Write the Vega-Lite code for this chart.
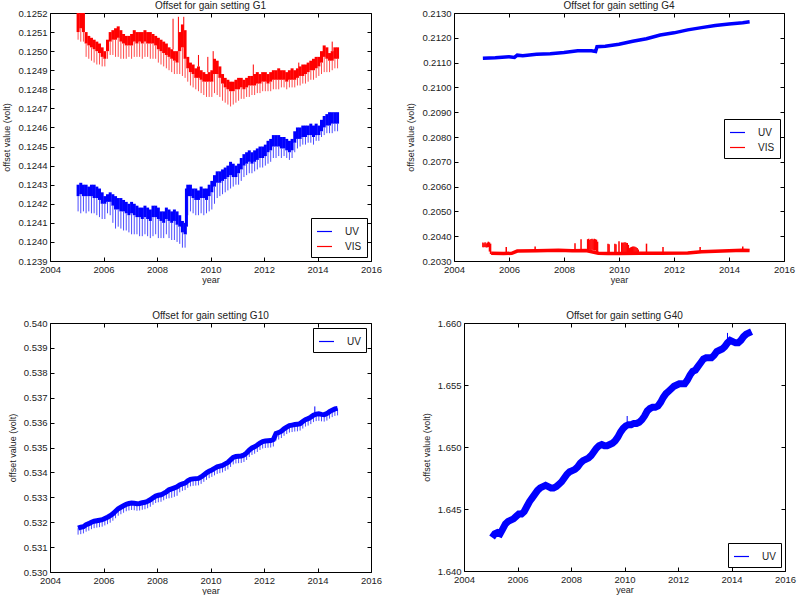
{
"$schema": "https://vega.github.io/schema/vega-lite/v6.json",
"background": "white",
"padding": {"left": 2, "top": 0, "right": 0, "bottom": 0},
"resolve": {"scale": {"color": "independent"}, "legend": {"color": "independent"}},
"config": {
 "font": "Liberation Sans",
 "view": {"stroke": "#000", "strokeWidth": 1},
 "axis": {"grid": false, "domain": false, "tickSize": -4, "tickColor": "#000", "labelFontSize": 9.5, "labelColor": "#222", "labelPadding": 7, "titleFontSize": 9, "titleFontWeight": "normal", "titleColor": "#222", "labelFlush": false, "labelOverlap": false, "tickCount": 30},
 "axisX": {"titlePadding": 2},
 "axisY": {"titlePadding": 6},
 "title": {"fontSize": 10, "fontWeight": "normal", "color": "#222", "offset": -3},
 "legend": {"symbolType": "stroke", "strokeColor": "#000", "fillColor": "#fff", "padding": 5, "labelFontSize": 10, "symbolStrokeWidth": 1.2, "symbolSize": 225, "rowPadding": 1, "labelOffset": 12, "labelColor": "#222", "cornerRadius": 0}
},
"datasets": {
 "g1": [
  {"s":"UV","t":2005.05,"hi":0.1243,"lo":0.12424,"sp":0.12416},
  {"s":"UV","t":2005.15,"hi":0.12431,"lo":0.12425,"sp":0.12415},
  {"s":"UV","t":2005.25,"hi":0.1243,"lo":0.12424,"sp":0.12416},
  {"s":"UV","t":2005.35,"hi":0.1243,"lo":0.12424,"sp":0.12415},
  {"s":"UV","t":2005.45,"hi":0.12429,"lo":0.12424,"sp":0.12416},
  {"s":"UV","t":2005.55,"hi":0.1243,"lo":0.12424,"sp":0.12415},
  {"s":"UV","t":2005.65,"hi":0.1243,"lo":0.12423,"sp":0.12415},
  {"s":"UV","t":2005.75,"hi":0.12429,"lo":0.12423,"sp":0.12414},
  {"s":"UV","t":2005.85,"hi":0.12428,"lo":0.12422,"sp":0.12413},
  {"s":"UV","t":2005.95,"hi":0.12426,"lo":0.1242,"sp":0.12412},
  {"s":"UV","t":2006.05,"hi":0.12424,"lo":0.1242,"sp":0.12412},
  {"s":"UV","t":2006.15,"hi":0.12425,"lo":0.12421,"sp":0.12415},
  {"s":"UV","t":2006.25,"hi":0.12426,"lo":0.12421,"sp":0.12414},
  {"s":"UV","t":2006.35,"hi":0.12425,"lo":0.12419,"sp":0.1241},
  {"s":"UV","t":2006.45,"hi":0.12424,"lo":0.12417,"sp":0.12407},
  {"s":"UV","t":2006.55,"hi":0.12423,"lo":0.12417,"sp":0.12408},
  {"s":"UV","t":2006.65,"hi":0.12423,"lo":0.12416,"sp":0.12407},
  {"s":"UV","t":2006.75,"hi":0.12422,"lo":0.12416,"sp":0.12406},
  {"s":"UV","t":2006.85,"hi":0.12421,"lo":0.12415,"sp":0.12406},
  {"s":"UV","t":2006.95,"hi":0.1242,"lo":0.12414,"sp":0.12405},
  {"s":"UV","t":2007.05,"hi":0.12421,"lo":0.12415,"sp":0.12404},
  {"s":"UV","t":2007.15,"hi":0.1242,"lo":0.12414,"sp":0.12404},
  {"s":"UV","t":2007.25,"hi":0.12419,"lo":0.12413,"sp":0.12404},
  {"s":"UV","t":2007.35,"hi":0.12418,"lo":0.12413,"sp":0.12403},
  {"s":"UV","t":2007.45,"hi":0.12418,"lo":0.12412,"sp":0.12403},
  {"s":"UV","t":2007.55,"hi":0.12419,"lo":0.12413,"sp":0.12404},
  {"s":"UV","t":2007.65,"hi":0.12418,"lo":0.12412,"sp":0.12403},
  {"s":"UV","t":2007.75,"hi":0.12417,"lo":0.12411,"sp":0.12402},
  {"s":"UV","t":2007.85,"hi":0.12419,"lo":0.12413,"sp":0.12403},
  {"s":"UV","t":2007.95,"hi":0.12419,"lo":0.12413,"sp":0.12404},
  {"s":"UV","t":2008.05,"hi":0.12418,"lo":0.12412,"sp":0.12402},
  {"s":"UV","t":2008.15,"hi":0.12416,"lo":0.12411,"sp":0.12402},
  {"s":"UV","t":2008.25,"hi":0.12416,"lo":0.1241,"sp":0.12402},
  {"s":"UV","t":2008.35,"hi":0.12418,"lo":0.12412,"sp":0.12404},
  {"s":"UV","t":2008.45,"hi":0.12417,"lo":0.12411,"sp":0.12402},
  {"s":"UV","t":2008.55,"hi":0.12416,"lo":0.1241,"sp":0.12401},
  {"s":"UV","t":2008.65,"hi":0.12417,"lo":0.12411,"sp":0.12401},
  {"s":"UV","t":2008.75,"hi":0.12416,"lo":0.12409,"sp":0.124},
  {"s":"UV","t":2008.85,"hi":0.12414,"lo":0.12408,"sp":0.12399},
  {"s":"UV","t":2008.95,"hi":0.12411,"lo":0.12405,"sp":0.12397},
  {"s":"UV","t":2009.05,"hi":0.1241,"lo":0.12404,"sp":0.12397},
  {"s":"UV","t":2009.1,"hi":0.12428,"lo":0.12408,"sp":0.12404},
  {"s":"UV","t":2009.15,"hi":0.1243,"lo":0.12424,"sp":0.12414},
  {"s":"UV","t":2009.25,"hi":0.1243,"lo":0.12424,"sp":0.12416},
  {"s":"UV","t":2009.35,"hi":0.12428,"lo":0.12423,"sp":0.12415},
  {"s":"UV","t":2009.45,"hi":0.12428,"lo":0.12422,"sp":0.12414},
  {"s":"UV","t":2009.55,"hi":0.12427,"lo":0.12422,"sp":0.12414},
  {"s":"UV","t":2009.65,"hi":0.12429,"lo":0.12423,"sp":0.12415},
  {"s":"UV","t":2009.75,"hi":0.12428,"lo":0.12423,"sp":0.12414},
  {"s":"UV","t":2009.85,"hi":0.12428,"lo":0.12422,"sp":0.12415},
  {"s":"UV","t":2009.95,"hi":0.1243,"lo":0.12424,"sp":0.12416},
  {"s":"UV","t":2010.05,"hi":0.12432,"lo":0.12426,"sp":0.12417},
  {"s":"UV","t":2010.15,"hi":0.12435,"lo":0.12429,"sp":0.1242},
  {"s":"UV","t":2010.25,"hi":0.12437,"lo":0.12431,"sp":0.12423},
  {"s":"UV","t":2010.35,"hi":0.12437,"lo":0.12431,"sp":0.12424},
  {"s":"UV","t":2010.45,"hi":0.12438,"lo":0.12432,"sp":0.12425},
  {"s":"UV","t":2010.55,"hi":0.12439,"lo":0.12433,"sp":0.12426},
  {"s":"UV","t":2010.65,"hi":0.1244,"lo":0.12434,"sp":0.12427},
  {"s":"UV","t":2010.75,"hi":0.12442,"lo":0.12435,"sp":0.12428},
  {"s":"UV","t":2010.85,"hi":0.12441,"lo":0.12434,"sp":0.12429},
  {"s":"UV","t":2010.95,"hi":0.1244,"lo":0.12434,"sp":0.1243},
  {"s":"UV","t":2011.05,"hi":0.12441,"lo":0.12436,"sp":0.1243},
  {"s":"UV","t":2011.15,"hi":0.12444,"lo":0.12438,"sp":0.12432},
  {"s":"UV","t":2011.25,"hi":0.12446,"lo":0.1244,"sp":0.12434},
  {"s":"UV","t":2011.35,"hi":0.12447,"lo":0.12441,"sp":0.12435},
  {"s":"UV","t":2011.45,"hi":0.12448,"lo":0.12442,"sp":0.12436},
  {"s":"UV","t":2011.55,"hi":0.12447,"lo":0.12441,"sp":0.12436},
  {"s":"UV","t":2011.65,"hi":0.12448,"lo":0.12442,"sp":0.12437},
  {"s":"UV","t":2011.75,"hi":0.12449,"lo":0.12443,"sp":0.12438},
  {"s":"UV","t":2011.85,"hi":0.1245,"lo":0.12444,"sp":0.12439},
  {"s":"UV","t":2011.95,"hi":0.1245,"lo":0.12444,"sp":0.12439},
  {"s":"UV","t":2012.05,"hi":0.12451,"lo":0.12445,"sp":0.1244},
  {"s":"UV","t":2012.15,"hi":0.12453,"lo":0.12447,"sp":0.12441},
  {"s":"UV","t":2012.25,"hi":0.12454,"lo":0.12448,"sp":0.12442},
  {"s":"UV","t":2012.35,"hi":0.12456,"lo":0.1245,"sp":0.12444},
  {"s":"UV","t":2012.45,"hi":0.12456,"lo":0.1245,"sp":0.12444},
  {"s":"UV","t":2012.55,"hi":0.12456,"lo":0.1245,"sp":0.12445},
  {"s":"UV","t":2012.65,"hi":0.12455,"lo":0.12449,"sp":0.12444},
  {"s":"UV","t":2012.75,"hi":0.12455,"lo":0.12449,"sp":0.12445},
  {"s":"UV","t":2012.85,"hi":0.12454,"lo":0.12448,"sp":0.12444},
  {"s":"UV","t":2012.95,"hi":0.12453,"lo":0.12447,"sp":0.12443},
  {"s":"UV","t":2013.05,"hi":0.12454,"lo":0.12448,"sp":0.12444},
  {"s":"UV","t":2013.15,"hi":0.12458,"lo":0.12452,"sp":0.12447},
  {"s":"UV","t":2013.25,"hi":0.1246,"lo":0.12454,"sp":0.12449},
  {"s":"UV","t":2013.35,"hi":0.1246,"lo":0.12454,"sp":0.1245},
  {"s":"UV","t":2013.45,"hi":0.12461,"lo":0.12455,"sp":0.12451},
  {"s":"UV","t":2013.55,"hi":0.12461,"lo":0.12455,"sp":0.12451},
  {"s":"UV","t":2013.65,"hi":0.12461,"lo":0.12456,"sp":0.12452},
  {"s":"UV","t":2013.75,"hi":0.12462,"lo":0.12456,"sp":0.12452},
  {"s":"UV","t":2013.85,"hi":0.12461,"lo":0.12455,"sp":0.12451},
  {"s":"UV","t":2013.95,"hi":0.12462,"lo":0.12456,"sp":0.12453},
  {"s":"UV","t":2014.05,"hi":0.12461,"lo":0.12456,"sp":0.12453},
  {"s":"UV","t":2014.15,"hi":0.12464,"lo":0.12458,"sp":0.12455},
  {"s":"UV","t":2014.25,"hi":0.12466,"lo":0.1246,"sp":0.12456},
  {"s":"UV","t":2014.35,"hi":0.12467,"lo":0.12461,"sp":0.12457},
  {"s":"UV","t":2014.45,"hi":0.12468,"lo":0.12461,"sp":0.12457},
  {"s":"UV","t":2014.55,"hi":0.12468,"lo":0.12462,"sp":0.12457},
  {"s":"UV","t":2014.65,"hi":0.12468,"lo":0.12462,"sp":0.12458},
  {"s":"UV","t":2014.75,"hi":0.12468,"lo":0.12462,"sp":0.12458},
  {"s":"VIS","t":2005.05,"hi":0.1252,"lo":0.1251,"sp":0.12506},
  {"s":"VIS","t":2005.15,"hi":0.12521,"lo":0.12512,"sp":0.12505},
  {"s":"VIS","t":2005.25,"hi":0.1252,"lo":0.1251,"sp":0.12505},
  {"s":"VIS","t":2005.35,"hi":0.1251,"lo":0.12504,"sp":0.12497},
  {"s":"VIS","t":2005.45,"hi":0.12508,"lo":0.12503,"sp":0.12496},
  {"s":"VIS","t":2005.55,"hi":0.12507,"lo":0.12502,"sp":0.12495},
  {"s":"VIS","t":2005.65,"hi":0.12506,"lo":0.12501,"sp":0.12494},
  {"s":"VIS","t":2005.75,"hi":0.12505,"lo":0.125,"sp":0.12493},
  {"s":"VIS","t":2005.85,"hi":0.12504,"lo":0.12499,"sp":0.12493},
  {"s":"VIS","t":2005.95,"hi":0.12502,"lo":0.12497,"sp":0.12492},
  {"s":"VIS","t":2006.05,"hi":0.125,"lo":0.12496,"sp":0.12492},
  {"s":"VIS","t":2006.15,"hi":0.12506,"lo":0.125,"sp":0.12496},
  {"s":"VIS","t":2006.25,"hi":0.1251,"lo":0.12505,"sp":0.12498},
  {"s":"VIS","t":2006.35,"hi":0.12511,"lo":0.12506,"sp":0.12498},
  {"s":"VIS","t":2006.45,"hi":0.12512,"lo":0.12506,"sp":0.12497},
  {"s":"VIS","t":2006.55,"hi":0.12513,"lo":0.12507,"sp":0.12497},
  {"s":"VIS","t":2006.65,"hi":0.12511,"lo":0.12505,"sp":0.12496},
  {"s":"VIS","t":2006.75,"hi":0.12509,"lo":0.12504,"sp":0.12496},
  {"s":"VIS","t":2006.85,"hi":0.12508,"lo":0.12503,"sp":0.12496},
  {"s":"VIS","t":2006.95,"hi":0.12508,"lo":0.12503,"sp":0.12497},
  {"s":"VIS","t":2007.05,"hi":0.12509,"lo":0.12503,"sp":0.12496},
  {"s":"VIS","t":2007.15,"hi":0.12511,"lo":0.12505,"sp":0.12497},
  {"s":"VIS","t":2007.25,"hi":0.1251,"lo":0.12504,"sp":0.12497},
  {"s":"VIS","t":2007.35,"hi":0.1251,"lo":0.12505,"sp":0.12497},
  {"s":"VIS","t":2007.45,"hi":0.1251,"lo":0.12504,"sp":0.12496},
  {"s":"VIS","t":2007.55,"hi":0.12511,"lo":0.12505,"sp":0.12497},
  {"s":"VIS","t":2007.65,"hi":0.1251,"lo":0.12504,"sp":0.12497},
  {"s":"VIS","t":2007.75,"hi":0.1251,"lo":0.12504,"sp":0.12496},
  {"s":"VIS","t":2007.85,"hi":0.12509,"lo":0.12504,"sp":0.12496},
  {"s":"VIS","t":2007.95,"hi":0.12508,"lo":0.12503,"sp":0.12496},
  {"s":"VIS","t":2008.05,"hi":0.12507,"lo":0.12501,"sp":0.12494},
  {"s":"VIS","t":2008.15,"hi":0.12506,"lo":0.125,"sp":0.12493},
  {"s":"VIS","t":2008.25,"hi":0.12505,"lo":0.12499,"sp":0.12492},
  {"s":"VIS","t":2008.35,"hi":0.12504,"lo":0.12498,"sp":0.12491},
  {"s":"VIS","t":2008.45,"hi":0.12502,"lo":0.12497,"sp":0.1249},
  {"s":"VIS","t":2008.55,"hi":0.12501,"lo":0.12496,"sp":0.12489},
  {"s":"VIS","t":2008.65,"hi":0.125,"lo":0.12495,"sp":0.12488},
  {"s":"VIS","t":2008.75,"hi":0.125,"lo":0.12494,"sp":0.12488},
  {"s":"VIS","t":2008.85,"hi":0.1251,"lo":0.125,"sp":0.12488},
  {"s":"VIS","t":2008.95,"hi":0.12514,"lo":0.12502,"sp":0.12487},
  {"s":"VIS","t":2009.05,"hi":0.12511,"lo":0.12496,"sp":0.12486},
  {"s":"VIS","t":2009.15,"hi":0.12497,"lo":0.12491,"sp":0.12484},
  {"s":"VIS","t":2009.25,"hi":0.12494,"lo":0.12489,"sp":0.12482},
  {"s":"VIS","t":2009.35,"hi":0.12493,"lo":0.12488,"sp":0.12481},
  {"s":"VIS","t":2009.45,"hi":0.12491,"lo":0.12486,"sp":0.1248},
  {"s":"VIS","t":2009.55,"hi":0.12492,"lo":0.12486,"sp":0.12479},
  {"s":"VIS","t":2009.65,"hi":0.1249,"lo":0.12485,"sp":0.12478},
  {"s":"VIS","t":2009.75,"hi":0.12489,"lo":0.12484,"sp":0.12477},
  {"s":"VIS","t":2009.85,"hi":0.12488,"lo":0.12484,"sp":0.12476},
  {"s":"VIS","t":2009.95,"hi":0.12489,"lo":0.12484,"sp":0.12476},
  {"s":"VIS","t":2010.05,"hi":0.1249,"lo":0.12484,"sp":0.12476},
  {"s":"VIS","t":2010.15,"hi":0.12496,"lo":0.12488,"sp":0.12478},
  {"s":"VIS","t":2010.25,"hi":0.12495,"lo":0.12488,"sp":0.12477},
  {"s":"VIS","t":2010.35,"hi":0.12492,"lo":0.12486,"sp":0.12476},
  {"s":"VIS","t":2010.45,"hi":0.12488,"lo":0.12483,"sp":0.12474},
  {"s":"VIS","t":2010.55,"hi":0.12486,"lo":0.12481,"sp":0.12473},
  {"s":"VIS","t":2010.65,"hi":0.12485,"lo":0.1248,"sp":0.12472},
  {"s":"VIS","t":2010.75,"hi":0.12484,"lo":0.12479,"sp":0.12471},
  {"s":"VIS","t":2010.85,"hi":0.12484,"lo":0.12479,"sp":0.12472},
  {"s":"VIS","t":2010.95,"hi":0.12485,"lo":0.1248,"sp":0.12473},
  {"s":"VIS","t":2011.05,"hi":0.12486,"lo":0.1248,"sp":0.12474},
  {"s":"VIS","t":2011.15,"hi":0.12486,"lo":0.12481,"sp":0.12475},
  {"s":"VIS","t":2011.25,"hi":0.12485,"lo":0.1248,"sp":0.12475},
  {"s":"VIS","t":2011.35,"hi":0.12486,"lo":0.12481,"sp":0.12476},
  {"s":"VIS","t":2011.45,"hi":0.12487,"lo":0.12482,"sp":0.12476},
  {"s":"VIS","t":2011.55,"hi":0.12487,"lo":0.12482,"sp":0.12477},
  {"s":"VIS","t":2011.65,"hi":0.12488,"lo":0.12482,"sp":0.12477},
  {"s":"VIS","t":2011.75,"hi":0.12489,"lo":0.12483,"sp":0.12478},
  {"s":"VIS","t":2011.85,"hi":0.12488,"lo":0.12483,"sp":0.12478},
  {"s":"VIS","t":2011.95,"hi":0.12489,"lo":0.12484,"sp":0.12479},
  {"s":"VIS","t":2012.05,"hi":0.12489,"lo":0.12484,"sp":0.12479},
  {"s":"VIS","t":2012.15,"hi":0.12488,"lo":0.12483,"sp":0.12479},
  {"s":"VIS","t":2012.25,"hi":0.12489,"lo":0.12484,"sp":0.12479},
  {"s":"VIS","t":2012.35,"hi":0.1249,"lo":0.12485,"sp":0.1248},
  {"s":"VIS","t":2012.45,"hi":0.1249,"lo":0.12485,"sp":0.1248},
  {"s":"VIS","t":2012.55,"hi":0.12491,"lo":0.12485,"sp":0.1248},
  {"s":"VIS","t":2012.65,"hi":0.1249,"lo":0.12485,"sp":0.12481},
  {"s":"VIS","t":2012.75,"hi":0.1249,"lo":0.12485,"sp":0.12481},
  {"s":"VIS","t":2012.85,"hi":0.12489,"lo":0.12484,"sp":0.1248},
  {"s":"VIS","t":2012.95,"hi":0.1249,"lo":0.12485,"sp":0.12481},
  {"s":"VIS","t":2013.05,"hi":0.12491,"lo":0.12485,"sp":0.12481},
  {"s":"VIS","t":2013.15,"hi":0.1249,"lo":0.12485,"sp":0.12481},
  {"s":"VIS","t":2013.25,"hi":0.12491,"lo":0.12486,"sp":0.12482},
  {"s":"VIS","t":2013.35,"hi":0.12492,"lo":0.12487,"sp":0.12482},
  {"s":"VIS","t":2013.45,"hi":0.12493,"lo":0.12487,"sp":0.12483},
  {"s":"VIS","t":2013.55,"hi":0.12493,"lo":0.12488,"sp":0.12483},
  {"s":"VIS","t":2013.65,"hi":0.12494,"lo":0.12489,"sp":0.12484},
  {"s":"VIS","t":2013.75,"hi":0.12495,"lo":0.1249,"sp":0.12485},
  {"s":"VIS","t":2013.85,"hi":0.12496,"lo":0.1249,"sp":0.12485},
  {"s":"VIS","t":2013.95,"hi":0.12497,"lo":0.12491,"sp":0.12486},
  {"s":"VIS","t":2014.05,"hi":0.12497,"lo":0.12492,"sp":0.12487},
  {"s":"VIS","t":2014.15,"hi":0.125,"lo":0.12494,"sp":0.12488},
  {"s":"VIS","t":2014.25,"hi":0.12503,"lo":0.12497,"sp":0.12489},
  {"s":"VIS","t":2014.35,"hi":0.12502,"lo":0.12496,"sp":0.12489},
  {"s":"VIS","t":2014.45,"hi":0.12499,"lo":0.12495,"sp":0.12489},
  {"s":"VIS","t":2014.55,"hi":0.125,"lo":0.12495,"sp":0.1249},
  {"s":"VIS","t":2014.65,"hi":0.12502,"lo":0.12496,"sp":0.12491},
  {"s":"VIS","t":2014.75,"hi":0.12502,"lo":0.12496,"sp":0.12491}
 ],
 "g1up": [
  {"s":"VIS","t":2008.6,"base":0.12501,"up":0.12517},
  {"s":"VIS","t":2008.8,"base":0.125,"up":0.12518},
  {"s":"VIS","t":2009.0,"base":0.12511,"up":0.12518},
  {"s":"VIS","t":2009.55,"base":0.12492,"up":0.12498},
  {"s":"VIS","t":2009.9,"base":0.12489,"up":0.12497},
  {"s":"VIS","t":2010.1,"base":0.1249,"up":0.125},
  {"s":"VIS","t":2011.6,"base":0.12487,"up":0.12493},
  {"s":"VIS","t":2013.3,"base":0.12491,"up":0.12494},
  {"s":"VIS","t":2014.55,"base":0.125,"up":0.12505}
 ],
 "g4line": [
  {"s":"UV","t":2005.05,"c":0.21118},{"s":"UV","t":2005.5,"c":0.2112},{"s":"UV","t":2006.0,"c":0.21124},{"s":"UV","t":2006.2,"c":0.21121},{"s":"UV","t":2006.3,"c":0.2113},{"s":"UV","t":2006.5,"c":0.21128},{"s":"UV","t":2007.0,"c":0.21134},{"s":"UV","t":2007.5,"c":0.21136},{"s":"UV","t":2008.0,"c":0.21141},{"s":"UV","t":2008.5,"c":0.21148},{"s":"UV","t":2009.0,"c":0.21148},{"s":"UV","t":2009.15,"c":0.21145},{"s":"UV","t":2009.2,"c":0.21164},{"s":"UV","t":2009.5,"c":0.21166},{"s":"UV","t":2010.0,"c":0.21174},{"s":"UV","t":2010.5,"c":0.21186},{"s":"UV","t":2011.0,"c":0.21196},{"s":"UV","t":2011.5,"c":0.21211},{"s":"UV","t":2012.0,"c":0.2122},{"s":"UV","t":2012.5,"c":0.21232},{"s":"UV","t":2013.0,"c":0.21241},{"s":"UV","t":2013.5,"c":0.2125},{"s":"UV","t":2014.0,"c":0.21256},{"s":"UV","t":2014.5,"c":0.21261},{"s":"UV","t":2014.75,"c":0.21265},
  {"s":"VIS","t":2005.35,"c":0.20331},{"s":"VIS","t":2005.8,"c":0.2033},{"s":"VIS","t":2006.1,"c":0.20331},{"s":"VIS","t":2006.3,"c":0.2034},{"s":"VIS","t":2007.0,"c":0.20341},{"s":"VIS","t":2007.8,"c":0.20343},{"s":"VIS","t":2008.3,"c":0.20341},{"s":"VIS","t":2008.8,"c":0.20342},{"s":"VIS","t":2009.25,"c":0.20331},{"s":"VIS","t":2009.6,"c":0.2033},{"s":"VIS","t":2010.05,"c":0.2033},{"s":"VIS","t":2010.75,"c":0.20331},{"s":"VIS","t":2011.5,"c":0.20331},{"s":"VIS","t":2012.5,"c":0.20332},{"s":"VIS","t":2013.0,"c":0.20337},{"s":"VIS","t":2013.5,"c":0.20339},{"s":"VIS","t":2014.0,"c":0.20341},{"s":"VIS","t":2014.5,"c":0.20343},{"s":"VIS","t":2014.75,"c":0.20342}
 ],
 "g4rule": [
  {"s":"VIS","t":2005.05,"a":0.20355,"b":0.20375},{"s":"VIS","t":2005.09,"a":0.20355,"b":0.20372},{"s":"VIS","t":2005.13,"a":0.20356,"b":0.20376},{"s":"VIS","t":2005.17,"a":0.20354,"b":0.20371},{"s":"VIS","t":2005.21,"a":0.20355,"b":0.20374},{"s":"VIS","t":2005.25,"a":0.20356,"b":0.20378},{"s":"VIS","t":2005.29,"a":0.20338,"b":0.20375},{"s":"VIS","t":2005.33,"a":0.20328,"b":0.2037},
  {"s":"VIS","t":2005.9,"a":0.2033,"b":0.20356},{"s":"VIS","t":2006.95,"a":0.2034,"b":0.20358},{"s":"VIS","t":2008.4,"a":0.2034,"b":0.20372},{"s":"VIS","t":2008.62,"a":0.2034,"b":0.20388},
  {"s":"VIS","t":2008.86,"a":0.20345,"b":0.20388},{"s":"VIS","t":2008.9,"a":0.20344,"b":0.2039},{"s":"VIS","t":2008.94,"a":0.20345,"b":0.20385},{"s":"VIS","t":2008.98,"a":0.20343,"b":0.20389},{"s":"VIS","t":2009.02,"a":0.20345,"b":0.2039},{"s":"VIS","t":2009.06,"a":0.20344,"b":0.20387},{"s":"VIS","t":2009.1,"a":0.20342,"b":0.2039},{"s":"VIS","t":2009.14,"a":0.20343,"b":0.20388},{"s":"VIS","t":2009.18,"a":0.20335,"b":0.20386},{"s":"VIS","t":2009.22,"a":0.20328,"b":0.20378},
  {"s":"VIS","t":2009.6,"a":0.2033,"b":0.2037},{"s":"VIS","t":2009.64,"a":0.2033,"b":0.20368},{"s":"VIS","t":2009.85,"a":0.2033,"b":0.2037},{"s":"VIS","t":2009.89,"a":0.2033,"b":0.20368},{"s":"VIS","t":2010.0,"a":0.2033,"b":0.2038},
  {"s":"VIS","t":2010.1,"a":0.20325,"b":0.20375},{"s":"VIS","t":2010.14,"a":0.20325,"b":0.20374},{"s":"VIS","t":2010.18,"a":0.20325,"b":0.20375},{"s":"VIS","t":2010.22,"a":0.20325,"b":0.20376},{"s":"VIS","t":2010.26,"a":0.20325,"b":0.20374},{"s":"VIS","t":2010.3,"a":0.20325,"b":0.20373},{"s":"VIS","t":2010.34,"a":0.20325,"b":0.20365},
  {"s":"VIS","t":2010.38,"a":0.20325,"b":0.20352},{"s":"VIS","t":2010.42,"a":0.20325,"b":0.20355},{"s":"VIS","t":2010.46,"a":0.20325,"b":0.20357},{"s":"VIS","t":2010.5,"a":0.20325,"b":0.20358},{"s":"VIS","t":2010.54,"a":0.20325,"b":0.20358},{"s":"VIS","t":2010.58,"a":0.20325,"b":0.20357},{"s":"VIS","t":2010.62,"a":0.20325,"b":0.20355},{"s":"VIS","t":2010.66,"a":0.20326,"b":0.20352},{"s":"VIS","t":2010.7,"a":0.20326,"b":0.20346},
  {"s":"VIS","t":2011.0,"a":0.2033,"b":0.2037},{"s":"VIS","t":2011.6,"a":0.2033,"b":0.20356},{"s":"VIS","t":2012.95,"a":0.20335,"b":0.20356},{"s":"VIS","t":2014.5,"a":0.2034,"b":0.20358}
 ],
 "g10": [
  {"s":"UV","t":2005.05,"c":0.53176,"sp":0.5315},{"s":"UV","t":2005.15,"c":0.5318,"sp":0.53152},{"s":"UV","t":2005.25,"c":0.53182,"sp":0.53155},{"s":"UV","t":2005.35,"c":0.5319,"sp":0.53162},{"s":"UV","t":2005.45,"c":0.53194,"sp":0.53166},{"s":"UV","t":2005.55,"c":0.532,"sp":0.53172},{"s":"UV","t":2005.65,"c":0.53204,"sp":0.53176},{"s":"UV","t":2005.75,"c":0.53206,"sp":0.53178},{"s":"UV","t":2005.85,"c":0.53208,"sp":0.5318},{"s":"UV","t":2005.95,"c":0.5321,"sp":0.53182},
  {"s":"UV","t":2006.05,"c":0.53215,"sp":0.53187},{"s":"UV","t":2006.15,"c":0.5322,"sp":0.53192},{"s":"UV","t":2006.25,"c":0.53226,"sp":0.53198},{"s":"UV","t":2006.35,"c":0.53234,"sp":0.53206},{"s":"UV","t":2006.45,"c":0.53244,"sp":0.53216},{"s":"UV","t":2006.55,"c":0.53254,"sp":0.53226},{"s":"UV","t":2006.65,"c":0.5326,"sp":0.53232},{"s":"UV","t":2006.75,"c":0.53266,"sp":0.53238},{"s":"UV","t":2006.85,"c":0.53272,"sp":0.53244},{"s":"UV","t":2006.95,"c":0.53275,"sp":0.53247},
  {"s":"UV","t":2007.05,"c":0.53277,"sp":0.53249},{"s":"UV","t":2007.15,"c":0.53276,"sp":0.53248},{"s":"UV","t":2007.25,"c":0.53274,"sp":0.53246},{"s":"UV","t":2007.35,"c":0.53275,"sp":0.53247},{"s":"UV","t":2007.45,"c":0.53278,"sp":0.5325},{"s":"UV","t":2007.55,"c":0.5328,"sp":0.53252},{"s":"UV","t":2007.65,"c":0.53284,"sp":0.53256},{"s":"UV","t":2007.75,"c":0.5329,"sp":0.53262},{"s":"UV","t":2007.85,"c":0.53298,"sp":0.5327},{"s":"UV","t":2007.95,"c":0.53305,"sp":0.53277},
  {"s":"UV","t":2008.05,"c":0.53308,"sp":0.5328},{"s":"UV","t":2008.15,"c":0.5331,"sp":0.53282},{"s":"UV","t":2008.25,"c":0.53316,"sp":0.53288},{"s":"UV","t":2008.35,"c":0.53322,"sp":0.53294},{"s":"UV","t":2008.45,"c":0.5333,"sp":0.53296},{"s":"UV","t":2008.55,"c":0.53334,"sp":0.53298},{"s":"UV","t":2008.65,"c":0.53338,"sp":0.53302},{"s":"UV","t":2008.75,"c":0.53342,"sp":0.53306},{"s":"UV","t":2008.85,"c":0.5335,"sp":0.5332},{"s":"UV","t":2008.95,"c":0.53354,"sp":0.53326},
  {"s":"UV","t":2009.05,"c":0.53357,"sp":0.53329},{"s":"UV","t":2009.15,"c":0.53366,"sp":0.53338},{"s":"UV","t":2009.25,"c":0.53372,"sp":0.53344},{"s":"UV","t":2009.35,"c":0.53374,"sp":0.53346},{"s":"UV","t":2009.45,"c":0.53375,"sp":0.53347},{"s":"UV","t":2009.55,"c":0.53376,"sp":0.53348},{"s":"UV","t":2009.65,"c":0.53382,"sp":0.53354},{"s":"UV","t":2009.75,"c":0.5339,"sp":0.53362},{"s":"UV","t":2009.85,"c":0.53398,"sp":0.5337},{"s":"UV","t":2009.95,"c":0.53405,"sp":0.53377},
  {"s":"UV","t":2010.05,"c":0.5341,"sp":0.53382},{"s":"UV","t":2010.15,"c":0.53416,"sp":0.53388},{"s":"UV","t":2010.25,"c":0.53422,"sp":0.53394},{"s":"UV","t":2010.35,"c":0.53425,"sp":0.53397},{"s":"UV","t":2010.45,"c":0.53428,"sp":0.534},{"s":"UV","t":2010.55,"c":0.53434,"sp":0.53406},{"s":"UV","t":2010.65,"c":0.5344,"sp":0.53412},{"s":"UV","t":2010.75,"c":0.5345,"sp":0.53422},{"s":"UV","t":2010.85,"c":0.5346,"sp":0.53432},{"s":"UV","t":2010.95,"c":0.53464,"sp":0.53436},
  {"s":"UV","t":2011.05,"c":0.53465,"sp":0.53437},{"s":"UV","t":2011.15,"c":0.53466,"sp":0.53438},{"s":"UV","t":2011.25,"c":0.5347,"sp":0.53442},{"s":"UV","t":2011.35,"c":0.53478,"sp":0.5345},{"s":"UV","t":2011.45,"c":0.5349,"sp":0.53462},{"s":"UV","t":2011.55,"c":0.53498,"sp":0.5347},{"s":"UV","t":2011.65,"c":0.53503,"sp":0.53475},{"s":"UV","t":2011.75,"c":0.5351,"sp":0.53482},{"s":"UV","t":2011.85,"c":0.53518,"sp":0.5349},{"s":"UV","t":2011.95,"c":0.53524,"sp":0.53496},
  {"s":"UV","t":2012.05,"c":0.53526,"sp":0.53498},{"s":"UV","t":2012.15,"c":0.53527,"sp":0.53499},{"s":"UV","t":2012.25,"c":0.53528,"sp":0.535},{"s":"UV","t":2012.35,"c":0.53532,"sp":0.53504},{"s":"UV","t":2012.45,"c":0.53556,"sp":0.53528},{"s":"UV","t":2012.55,"c":0.5356,"sp":0.53532},{"s":"UV","t":2012.65,"c":0.53566,"sp":0.53538},{"s":"UV","t":2012.75,"c":0.53575,"sp":0.53547},{"s":"UV","t":2012.85,"c":0.53582,"sp":0.53554},{"s":"UV","t":2012.95,"c":0.53588,"sp":0.5356},
  {"s":"UV","t":2013.05,"c":0.5359,"sp":0.53562},{"s":"UV","t":2013.15,"c":0.53592,"sp":0.53564},{"s":"UV","t":2013.25,"c":0.53593,"sp":0.53565},{"s":"UV","t":2013.35,"c":0.53596,"sp":0.53568},{"s":"UV","t":2013.45,"c":0.53604,"sp":0.53576},{"s":"UV","t":2013.55,"c":0.53612,"sp":0.53584},{"s":"UV","t":2013.65,"c":0.53616,"sp":0.53588},{"s":"UV","t":2013.75,"c":0.53622,"sp":0.53594},{"s":"UV","t":2013.85,"c":0.5363,"sp":0.53602},{"s":"UV","t":2013.95,"c":0.53634,"sp":0.53606},
  {"s":"UV","t":2014.05,"c":0.53635,"sp":0.53607},{"s":"UV","t":2014.15,"c":0.53633,"sp":0.53605},{"s":"UV","t":2014.25,"c":0.53632,"sp":0.53604},{"s":"UV","t":2014.35,"c":0.53636,"sp":0.53608},{"s":"UV","t":2014.45,"c":0.53644,"sp":0.53616},{"s":"UV","t":2014.55,"c":0.5365,"sp":0.53622},{"s":"UV","t":2014.65,"c":0.53655,"sp":0.53627},{"s":"UV","t":2014.75,"c":0.53657,"sp":0.53629}
 ],
 "g10up": [
  {"s":"UV","t":2013.9,"base":0.5363,"up":0.53665}
 ],
 "g40": [
  {"s":"UV","t":2005.05,"c":1.6427},{"s":"UV","t":2005.15,"c":1.643},{"s":"UV","t":2005.25,"c":1.6431},{"s":"UV","t":2005.35,"c":1.643},{"s":"UV","t":2005.45,"c":1.6434},{"s":"UV","t":2005.55,"c":1.6438},{"s":"UV","t":2005.65,"c":1.644},{"s":"UV","t":2005.75,"c":1.6441},{"s":"UV","t":2005.85,"c":1.6442},{"s":"UV","t":2005.95,"c":1.6444},
  {"s":"UV","t":2006.05,"c":1.6446},{"s":"UV","t":2006.15,"c":1.6446},{"s":"UV","t":2006.25,"c":1.6448},{"s":"UV","t":2006.35,"c":1.6452},{"s":"UV","t":2006.45,"c":1.6456},{"s":"UV","t":2006.55,"c":1.6459},{"s":"UV","t":2006.65,"c":1.6462},{"s":"UV","t":2006.75,"c":1.6465},{"s":"UV","t":2006.85,"c":1.6467},{"s":"UV","t":2006.95,"c":1.6468},
  {"s":"UV","t":2007.05,"c":1.6469},{"s":"UV","t":2007.15,"c":1.6468},{"s":"UV","t":2007.25,"c":1.6467},{"s":"UV","t":2007.35,"c":1.6467},{"s":"UV","t":2007.45,"c":1.6468},{"s":"UV","t":2007.55,"c":1.647},{"s":"UV","t":2007.65,"c":1.6472},{"s":"UV","t":2007.75,"c":1.6475},{"s":"UV","t":2007.85,"c":1.6478},{"s":"UV","t":2007.95,"c":1.648},
  {"s":"UV","t":2008.05,"c":1.6481},{"s":"UV","t":2008.15,"c":1.6482},{"s":"UV","t":2008.25,"c":1.6484},{"s":"UV","t":2008.35,"c":1.6487},{"s":"UV","t":2008.45,"c":1.6489},{"s":"UV","t":2008.55,"c":1.649},{"s":"UV","t":2008.65,"c":1.6491},{"s":"UV","t":2008.75,"c":1.6493},{"s":"UV","t":2008.85,"c":1.6496},{"s":"UV","t":2008.95,"c":1.6499},
  {"s":"UV","t":2009.05,"c":1.6501},{"s":"UV","t":2009.15,"c":1.6502},{"s":"UV","t":2009.25,"c":1.6501},{"s":"UV","t":2009.35,"c":1.6501},{"s":"UV","t":2009.45,"c":1.6502},{"s":"UV","t":2009.55,"c":1.6503},{"s":"UV","t":2009.65,"c":1.6505},{"s":"UV","t":2009.75,"c":1.6508},{"s":"UV","t":2009.85,"c":1.6512},{"s":"UV","t":2009.95,"c":1.6515},
  {"s":"UV","t":2010.05,"c":1.6517},{"s":"UV","t":2010.15,"c":1.6518},{"s":"UV","t":2010.25,"c":1.6518},{"s":"UV","t":2010.35,"c":1.6519},{"s":"UV","t":2010.45,"c":1.6519},{"s":"UV","t":2010.55,"c":1.652},{"s":"UV","t":2010.65,"c":1.6522},{"s":"UV","t":2010.75,"c":1.6525},{"s":"UV","t":2010.85,"c":1.6529},{"s":"UV","t":2010.95,"c":1.6531},
  {"s":"UV","t":2011.05,"c":1.6532},{"s":"UV","t":2011.15,"c":1.6532},{"s":"UV","t":2011.25,"c":1.6533},{"s":"UV","t":2011.35,"c":1.6536},{"s":"UV","t":2011.45,"c":1.654},{"s":"UV","t":2011.55,"c":1.6543},{"s":"UV","t":2011.65,"c":1.6545},{"s":"UV","t":2011.75,"c":1.6547},{"s":"UV","t":2011.85,"c":1.6549},{"s":"UV","t":2011.95,"c":1.655},
  {"s":"UV","t":2012.05,"c":1.6551},{"s":"UV","t":2012.15,"c":1.6551},{"s":"UV","t":2012.25,"c":1.6551},{"s":"UV","t":2012.35,"c":1.6554},{"s":"UV","t":2012.45,"c":1.6558},{"s":"UV","t":2012.55,"c":1.6561},{"s":"UV","t":2012.65,"c":1.6562},{"s":"UV","t":2012.75,"c":1.6565},{"s":"UV","t":2012.85,"c":1.6568},{"s":"UV","t":2012.95,"c":1.6571},
  {"s":"UV","t":2013.05,"c":1.6572},{"s":"UV","t":2013.15,"c":1.6572},{"s":"UV","t":2013.25,"c":1.6572},{"s":"UV","t":2013.35,"c":1.6574},{"s":"UV","t":2013.45,"c":1.6577},{"s":"UV","t":2013.55,"c":1.6578},{"s":"UV","t":2013.65,"c":1.6579},{"s":"UV","t":2013.75,"c":1.6581},{"s":"UV","t":2013.85,"c":1.6584},{"s":"UV","t":2013.95,"c":1.6586},
  {"s":"UV","t":2014.05,"c":1.6585},{"s":"UV","t":2014.15,"c":1.6584},{"s":"UV","t":2014.25,"c":1.6584},{"s":"UV","t":2014.35,"c":1.6586},{"s":"UV","t":2014.45,"c":1.6589},{"s":"UV","t":2014.55,"c":1.6591},{"s":"UV","t":2014.65,"c":1.6592},{"s":"UV","t":2014.75,"c":1.6593}
 ],
 "g40up": [
  {"s":"UV","t":2010.1,"base":1.6517,"up":1.6525},
  {"s":"UV","t":2013.85,"base":1.6584,"up":1.6592}
 ]
},
"vconcat": [
 {"hconcat": [
  {
   "title": "Offset for gain setting G1",
   "width": 321, "height": 248,
   "resolve": {"axis": {"x": "independent", "y": "independent"}},
   "layer": [
    {
     "encoding": {
      "x": {"field": "t", "type": "quantitative", "scale": {"domain": [2004, 2016], "nice": false, "zero": false}, "axis": {"title": "year", "values": [2004, 2006, 2008, 2010, 2012, 2014, 2016], "format": "d"}},
      "color": {"field": "s", "type": "nominal", "scale": {"domain": ["UV", "VIS"], "range": ["#0000ff", "#ff0000"]}, "legend": {"title": null, "orient": "bottom-right", "offset": 4, "encode": {"symbols": {"update": {"strokeWidth": {"value": 1.2}}}}}}
     },
     "layer": [
      {"data": {"name": "g1"}, "mark": {"type": "rule", "strokeWidth": 1, "opacity": 0.7, "clip": true},
       "encoding": {"y": {"field": "lo", "type": "quantitative", "scale": {"domain": [0.1239, 0.1252], "nice": false, "zero": false}, "axis": {"title": "offset value (volt)", "values": [0.1239,0.124,0.1241,0.1242,0.1243,0.1244,0.1245,0.1246,0.1247,0.1248,0.1249,0.125,0.1251,0.1252], "format": ".4f"}}, "y2": {"field": "sp"}}},
      {"data": {"name": "g1"}, "mark": {"type": "rule", "strokeWidth": 3, "clip": true},
       "encoding": {"y": {"field": "hi", "type": "quantitative"}, "y2": {"field": "lo"}}},
      {"data": {"name": "g1up"}, "mark": {"type": "rule", "strokeWidth": 1, "clip": true},
       "encoding": {"y": {"field": "up", "type": "quantitative"}, "y2": {"field": "base"}}}
     ]
    },
    {"data": {"name": "g1up"}, "mark": {"type": "point", "opacity": 0},
     "encoding": {
      "x": {"field": "t", "type": "quantitative", "axis": {"orient": "top", "labels": false, "title": null, "values": [2004, 2006, 2008, 2010, 2012, 2014, 2016]}},
      "y": {"field": "up", "type": "quantitative", "axis": {"orient": "right", "labels": false, "title": null, "values": [0.1239,0.124,0.1241,0.1242,0.1243,0.1244,0.1245,0.1246,0.1247,0.1248,0.1249,0.125,0.1251,0.1252]}}
     }}
   ]
  },
  {
   "title": "Offset for gain setting G4",
   "width": 330, "height": 248,
   "resolve": {"axis": {"x": "independent", "y": "independent"}},
   "layer": [
    {
     "encoding": {
      "x": {"field": "t", "type": "quantitative", "scale": {"domain": [2004, 2016], "nice": false, "zero": false}, "axis": {"title": "year", "values": [2004, 2006, 2008, 2010, 2012, 2014, 2016], "format": "d"}},
      "color": {"field": "s", "type": "nominal", "scale": {"domain": ["UV", "VIS"], "range": ["#0000ff", "#ff0000"]}, "legend": {"title": null, "orient": "none", "legendX": 270, "legendY": 106, "encode": {"symbols": {"update": {"strokeWidth": {"value": 1.2}}}}}}
     },
     "layer": [
      {"data": {"name": "g4line"}, "mark": {"type": "line", "strokeWidth": 3.5, "clip": true},
       "encoding": {"y": {"field": "c", "type": "quantitative", "scale": {"domain": [0.203, 0.213], "nice": false, "zero": false}, "axis": {"title": "offset value (volt)", "values": [0.203,0.204,0.205,0.206,0.207,0.208,0.209,0.21,0.211,0.212,0.213], "format": ".4f"}}}},
      {"data": {"name": "g4rule"}, "mark": {"type": "rule", "strokeWidth": 1.5, "clip": true},
       "encoding": {"y": {"field": "b", "type": "quantitative"}, "y2": {"field": "a"}}}
     ]
    },
    {"data": {"name": "g4rule"}, "mark": {"type": "point", "opacity": 0},
     "encoding": {
      "x": {"field": "t", "type": "quantitative", "axis": {"orient": "top", "labels": false, "title": null, "values": [2004, 2006, 2008, 2010, 2012, 2014, 2016]}},
      "y": {"field": "b", "type": "quantitative", "axis": {"orient": "right", "labels": false, "title": null, "values": [0.203,0.204,0.205,0.206,0.207,0.208,0.209,0.21,0.211,0.212,0.213]}}
     }}
   ]
  }
 ], "spacing": 23, "resolve": {"scale": {"color": "independent"}, "legend": {"color": "independent"}}},
 {"hconcat": [
  {
   "title": "Offset for gain setting G10",
   "width": 321, "height": 249,
   "resolve": {"axis": {"x": "independent", "y": "independent"}},
   "layer": [
    {
     "encoding": {
      "x": {"field": "t", "type": "quantitative", "scale": {"domain": [2004, 2016], "nice": false, "zero": false}, "axis": {"title": "year", "values": [2004, 2006, 2008, 2010, 2012, 2014, 2016], "format": "d"}},
      "color": {"field": "s", "type": "nominal", "scale": {"domain": ["UV"], "range": ["#0000ff"]}, "legend": {"title": null, "orient": "top-right", "offset": 5, "encode": {"symbols": {"update": {"strokeWidth": {"value": 1.2}}}}}}
     },
     "layer": [
      {"data": {"name": "g10"}, "mark": {"type": "rule", "strokeWidth": 1, "opacity": 0.7, "clip": true},
       "encoding": {"y": {"field": "c", "type": "quantitative", "scale": {"domain": [0.53, 0.54], "nice": false, "zero": false}, "axis": {"title": "offset value (volt)", "values": [0.53,0.531,0.532,0.533,0.534,0.535,0.536,0.537,0.538,0.539,0.54], "format": ".3f"}}, "y2": {"field": "sp"}}},
      {"data": {"name": "g10"}, "mark": {"type": "line", "strokeWidth": 5, "clip": true},
       "encoding": {"y": {"field": "c", "type": "quantitative"}}},
      {"data": {"name": "g10up"}, "mark": {"type": "rule", "strokeWidth": 1, "clip": true},
       "encoding": {"y": {"field": "up", "type": "quantitative"}, "y2": {"field": "base"}}}
     ]
    },
    {"data": {"name": "g10up"}, "mark": {"type": "point", "opacity": 0},
     "encoding": {
      "x": {"field": "t", "type": "quantitative", "axis": {"orient": "top", "labels": false, "title": null, "values": [2004, 2006, 2008, 2010, 2012, 2014, 2016]}},
      "y": {"field": "up", "type": "quantitative", "axis": {"orient": "right", "labels": false, "title": null, "values": [0.53,0.531,0.532,0.533,0.534,0.535,0.536,0.537,0.538,0.539,0.54]}}
     }}
   ]
  },
  {
   "title": "Offset for gain setting G40",
   "width": 321, "height": 248,
   "resolve": {"axis": {"x": "independent", "y": "independent"}},
   "layer": [
    {
     "encoding": {
      "x": {"field": "t", "type": "quantitative", "scale": {"domain": [2004, 2016], "nice": false, "zero": false}, "axis": {"title": "year", "values": [2004, 2006, 2008, 2010, 2012, 2014, 2016], "format": "d"}},
      "color": {"field": "s", "type": "nominal", "scale": {"domain": ["UV"], "range": ["#0000ff"]}, "legend": {"title": null, "orient": "bottom-right", "offset": 4, "encode": {"symbols": {"update": {"strokeWidth": {"value": 1.2}}}}}}
     },
     "layer": [
      {"data": {"name": "g40"}, "mark": {"type": "line", "strokeWidth": 7, "clip": true},
       "encoding": {"y": {"field": "c", "type": "quantitative", "scale": {"domain": [1.64, 1.66], "nice": false, "zero": false}, "axis": {"title": "offset value (volt)", "values": [1.64,1.645,1.65,1.655,1.66], "format": ".3f"}}}},
      {"data": {"name": "g40up"}, "mark": {"type": "rule", "strokeWidth": 1, "clip": true},
       "encoding": {"y": {"field": "up", "type": "quantitative"}, "y2": {"field": "base"}}}
     ]
    },
    {"data": {"name": "g40up"}, "mark": {"type": "point", "opacity": 0},
     "encoding": {
      "x": {"field": "t", "type": "quantitative", "axis": {"orient": "top", "labels": false, "title": null, "values": [2004, 2006, 2008, 2010, 2012, 2014, 2016]}},
      "y": {"field": "up", "type": "quantitative", "axis": {"orient": "right", "labels": false, "title": null, "values": [1.64,1.645,1.65,1.655,1.66]}}
     }}
   ]
  }
 ], "spacing": 38, "resolve": {"scale": {"color": "independent"}, "legend": {"color": "independent"}}}
],
"spacing": 25
}
